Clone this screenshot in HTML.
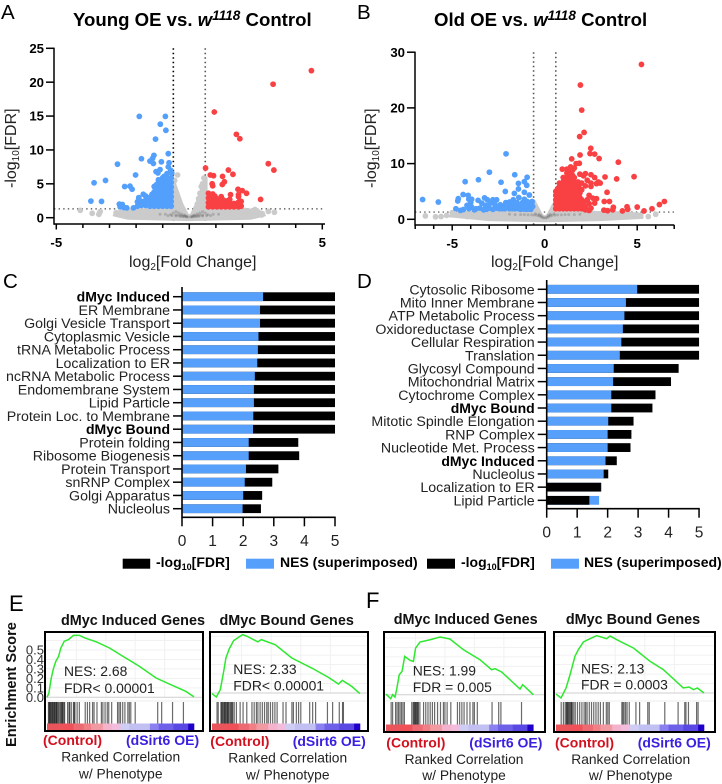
<!DOCTYPE html>
<html><head><meta charset="utf-8"><title>Volcano, GSEA bars and enrichment plots</title>
<style>
html,body{margin:0;padding:0;background:#fff;width:722px;height:784px;overflow:hidden}
svg{display:block;font-family:"Liberation Sans",Arial,sans-serif}
.b{font-weight:bold}
</style></head>
<body>
<svg id="fig" width="722" height="784" viewBox="0 0 722 784" xmlns="http://www.w3.org/2000/svg">
<g font-size="20.5">
<text x="1" y="19">A</text>
<text x="357" y="19">B</text>
<text x="3" y="288">C</text>
<text x="357" y="288">D</text>
<text x="9" y="611" font-size="22">E</text>
<text x="366" y="608" font-size="22">F</text>
</g>
<g class="b" font-size="18.6">
<text x="73" y="26">Young OE vs. <tspan font-style="italic">w</tspan><tspan font-style="italic" font-size="13.6" dy="-6">1118</tspan><tspan dy="6"> Control</tspan></text>
<text x="434" y="26">Old OE vs. <tspan font-style="italic">w</tspan><tspan font-style="italic" font-size="13.6" dy="-6">1118</tspan><tspan dy="6"> Control</tspan></text>
</g>
<g font-size="16" fill="#222">
<text x="129" y="267">log<tspan font-size="10" dy="3">2</tspan><tspan dy="-3">[Fold Change]</tspan></text>
<text x="491" y="267">log<tspan font-size="10" dy="3">2</tspan><tspan dy="-3">[Fold Change]</tspan></text>
<text transform="translate(16,188) rotate(-90)">-log<tspan font-size="10" dy="3">10</tspan><tspan dy="-3">[FDR]</tspan></text>
<text transform="translate(376,188) rotate(-90)">-log<tspan font-size="10" dy="3">10</tspan><tspan dy="-3">[FDR]</tspan></text>
</g>
<g id="gA"></g>
<g id="gB"></g>
<g id="gC"></g>
<g id="gD"></g>
<g class="b" font-size="14">
<rect x="122.7" y="558.7" width="27.5" height="10" fill="#000"/>
<text x="156" y="567">-log<tspan font-size="9" dy="3">10</tspan><tspan dy="-3">[FDR]</tspan></text>
<rect x="246" y="558.7" width="28" height="10" fill="#569ffb"/>
<text x="280" y="567">NES (superimposed)</text>
<rect x="427" y="558.7" width="28" height="10" fill="#000"/>
<text x="461" y="567">-log<tspan font-size="9" dy="3">10</tspan><tspan dy="-3">[FDR]</tspan></text>
<rect x="551" y="558.7" width="28" height="10" fill="#569ffb"/>
<text x="584" y="567">NES (superimposed)</text>
</g>
<text class="b" font-size="14.6" transform="translate(16,747) rotate(-90)" fill="#111">Enrichment Score</text>
<g id="gE"></g>
<script>
// Volcano A
const aEnvelope = [[-2.85,.3],[-2.8,.85],[-2.4,1.25],[-.68,1.35],[-.68,6],[-.52,5],[-.25,2],[-.06,.55],[0,.4],[.06,.55],[.25,2],[.5,5],[.66,6],[.66,1.35],[2.4,1.25],[2.8,.85],[2.85,.3],[2.3,-.2],[0,-.4],[-2.3,-.2]];
const aGrey = [[-4.1,1.08],[-3.65,.65],[-3.35,.9],[-3.4,.5],[2.97,.93],[3.2,.8],[2.47,1.2],[2.6,.65],[2.72,.4],[2.55,1],
[-2.75,.75],[-2.6,.5],[-2.4,.95],[-2,1.05],[-1.6,1.05],[-1.2,1.05],[2.1,1.05],[1.7,1.05],[-2.2,.2],[-1.5,.15],[1.5,.15],[2.2,.2],
[-.44,6.3],[-.55,5.5],[-.6,5],[-.62,4.4],[-.55,4.3],[-.62,3.6],[-.48,3.6],[-.62,2.9],[-.42,2.9],[-.62,2.2],[-.36,2.2],[-.62,1.6],[-.3,1.6],[-.24,1.1],
[.55,5.85],[.5,5],[.45,4.6],[.4,3.6],[.55,3.5],[.5,2.8],[.35,2.8],[.55,2.2],[.3,2],[.55,1.6],[.25,1.4],[.24,1.1],[0,0]];
const aCore = [[-.05,.1],[.05,.1],[-.1,.2],[.1,.2],[-.15,.3],[.15,.3],[-.2,.4],[.2,.4],[-.3,.55],[.3,.55],[-.4,.7],[.4,.7],[-.12,.1],[.12,.1],[-.2,.2],[.2,.2],[-.3,.3],[.3,.3],[-.4,.35],[.4,.35],[-.5,.4],[.5,.4],[-.7,.45],[.7,.45],[-.9,.5],[.9,.5],[-.6,.7],[.6,.7],[-.5,.9],[.5,.9],[-1.1,.5],[1.1,.5],[-.25,.15],[.25,.15],[-.35,.2],[.35,.2],[-.5,.25],[.5,.25],[-.65,.3],[.65,.3],[-.8,.3],[.8,.3]];
const aBlue = [[-1.88,14.95],[-.9,14.95],[-1.09,13.8],[-.88,12.9],[-1.27,11.6],[-.79,9.45],[-1.8,8.7],[-1.33,9.2],[-1.38,8.75],[-1.48,8.35],[-1.35,8],[-1.05,8.25],[-2.7,7.9],[-2.02,6.3],[-.76,8.1],[-.79,7.5],[-.7,7],[-.66,6.6],[-3.58,5.15],[-3.15,5.5],[-2.43,4.6],[-2.23,4.65],[-2.15,4.2],[-3.7,2.45],[-3.3,2.4],[-2.63,2],[-2.6,1.6],[-2.35,1.45],[-2.1,1.45],[-1.73,3.45],[-1.9,2.95],[-1.95,2.35],[-1.85,1.9],
[-1.1,7.1],[-1.25,6.8],[-1.18,6.6],[-.95,6.1],[-2.52,1.95],[-2.45,1.5],
[-.68,1.7],[-.68,2.4],[-.68,3.1],[-.68,3.8],[-.68,4.5],[-.68,5.2],[-.68,5.9],
[-.84,1.7],[-.84,2.4],[-.84,3.1],[-.84,3.8],[-.84,4.5],[-.84,5.2],[-.84,5.9],[-.84,6.5],
[-1,1.7],[-1,2.4],[-1,3.1],[-1,3.8],[-1,4.5],[-1,5.2],[-1,5.9],
[-1.16,1.7],[-1.16,2.4],[-1.16,3.1],[-1.16,3.8],[-1.16,4.5],[-1.16,5.2],[-1.16,5.6],
[-1.32,1.7],[-1.32,2.4],[-1.32,3.1],[-1.32,3.8],[-1.32,4.6],
[-1.48,1.7],[-1.48,2.3],[-1.48,3],[-1.64,1.8],[-1.64,2.6],[-1.64,3.2],[-1.8,1.8],[-1.8,2.4],[-1.95,1.7],
[-.76,2.05],[-.76,2.75],[-.76,3.45],[-.76,4.15],[-.76,4.85],[-.76,5.55],[-.92,2.05],[-.92,2.75],[-.92,3.45],[-.92,4.15],[-.92,4.85],[-.92,5.55],[-1.08,2.05],[-1.08,2.75],[-1.08,3.45],[-1.08,4.15],[-1.08,4.85],[-1.08,5.55],[-1.24,2.05],[-1.24,2.75],[-1.24,3.45],[-1.24,4.15],[-1.24,4.85],[-1.4,2.05],[-1.4,2.75],[-1.4,3.45],[-1.56,2.05],[-1.56,2.85],[-1.72,2.1]];
const aRed = [[4.59,21.7],[3.15,19.7],[.94,15.6],[1.77,12.3],[1.9,11.65],[2.97,7.97],[3.18,7.03],[.61,7.33],[.79,6.3],[.91,6.2],[1.25,6.1],[1.47,7.03],[1.64,6.4],[.86,5],[1.32,5.3],[1.83,4.2],[1.99,4],[2.15,3.6],[2.68,2.7],[1.55,3.4],[1.24,4.9],[.88,4.7],
[.72,1.6],[.72,2.2],[.72,2.9],[.72,3.6],[.88,1.6],[.88,2.2],[.88,2.9],[.88,3.5],[1.04,1.6],[1.04,2.2],[1.04,2.8],[1.2,1.6],[1.2,2.2],[1.2,3.1],[1.36,1.6],[1.36,2.3],[1.52,1.6],[1.52,2.2],[1.52,2.7],[1.68,1.6],[1.68,2.1],[1.85,1.6],[1.85,2.3],[1.85,3.1],[1.85,3.4],[1.95,1.7],[1.95,2.4],
[.8,1.9],[.8,2.55],[.8,3.2],[.96,1.9],[.96,2.55],[.96,3.2],[1.12,1.9],[1.12,2.5],[1.28,1.9],[1.28,2.6],[1.44,1.9],[1.44,2.5],[1.6,1.9],[1.76,1.9]];
const aXTicks = [-5,-4,-3,-2,-1,0,1,2,3,4,5];
const aXLabels = [-5,0,5];
const aYLabels = [0,5,10,15,20,25];
// Volcano B
const bEnvelope = [[-5.2,.5],[-4.8,1.2],[-4.2,1.35],[-.68,1.4],[-.64,3.2],[-.45,2.8],[-.15,.9],[0,.5],[.15,.9],[.45,2.8],[.64,3.2],[.68,1.4],[4.2,1.3],[5.3,1],[5.3,.2],[3,-.2],[0,-.4],[-3,-.2]];
const bGrey = [[-6.45,.6],[-5.9,.45],[-5.6,.5],[-5.3,.7],[6,.9],[5.6,.5],[-5,1.2],[0,.1],[-4.6,.8],[-4.2,.5],[4.7,.6],[5,.8],[-.6,3],[.6,3]];
const bCore = [[-.05,.25],[.05,.25],[-.12,.35],[.12,.35],[-.2,.45],[.2,.45],[-.3,.6],[.3,.6],[-.4,.7],[.4,.7],[-.55,.75],[.55,.75],[-.7,.8],[.7,.8],[-.9,.8],[.9,.8],[-1.1,.85],[1.1,.85],[-1.3,.85],[1.3,.85],[-.3,.9],[.3,.9],[-.2,.7],[.2,.7],[-1.6,.85],[1.6,.85],[-1.9,.9],[1.9,.9],[-.5,1],[.5,1]];
const bBlue = [[-2.09,11.75],[-2.99,8.45],[-1.62,8],[-3.58,7.1],[-4.3,6.75],[-2.36,6.65],[-.95,7.55],[-1.1,6.75],[-.97,6.1],[-1.42,6.45],[-1.42,5.45],[-6.6,3.55],[-5.75,3.1],[-2.13,5],[-1.64,4.65],[-1.1,4.85],[-.83,4.35],[-4.41,4.45],[-4.14,4.3],[-4.67,3.7],[-4.7,3.3],[-4.8,1.9],
[-4.4,1.75],[-4.55,1.6],[-4.1,3.6],[-3.95,3.6],[-4,3],[-4.2,2.5],[-3.95,2.2],[-4.1,1.9],[-3.8,1.7],[-3.6,3.4],[-3.25,3.85],[-3.1,3.5],[-3.4,2.9],[-3.5,2],[-3.2,2.5],[-2.95,2.9],[-3,2],[-2.8,3.5],[-2.6,3.5],[-2.7,2.7],[-2.6,2],[-2.4,2.6],[-2.3,1.9],[-2.1,3],[-2,2.5],[-1.9,1.9],[-1.9,3.1],[-1.7,3.5],[-1.65,2.6],[-1.6,1.9],[-1.5,3],[-1.4,3.9],[-1.35,2.4],[-1.3,1.8],[-1.2,3],[-1.1,3.6],[-1.05,2.4],[-1,1.8],[-.95,3.2],[-.8,2.6],[-.75,1.8],[-.68,3.2],[-.65,2.3],[-2.8,1.8],[-3.3,1.7],
[-2.15,1.9],[-2.2,2.4],[-1.8,2.4],[-1.5,2.2],[-1.2,2.2],[-.9,2.3],[-.7,2.8],[-1.4,1.9],[-1.15,1.85],[-.85,1.85],[-1.75,1.9],[-2.45,1.9],[-1.25,2.6],[-1.55,2.7],[-1.85,2.8],[-.85,3],[-3.7,1.9],[-3.15,1.8]];
const bRed = [[5.23,27.8],[1.93,24.1],[2,19.6],[2.13,15.6],[1.89,14.85],[2.49,12.75],[2.45,11.8],[2.7,11.7],[2.94,10.9],[1.91,11.55],[1.46,10.85],[1.87,10.05],[1.7,10],[3.98,10.25],[3.26,7.6],[4.83,7.65],[3.89,7.25],[3.37,4.85],[3.22,3.2],[3.5,3.2],[3.71,2.15],[6.47,3.2],[6.2,2.65],[5.8,1.9],[5.37,1.5],[5,2.2],[4.45,2.25],[4.2,1.5],[4.49,1.8],[3.4,1.55],[3.2,1.65],[3.68,1.7],
[.6,1.9],[.6,2.7],[.6,3.5],[.6,4.3],[.6,5],[.8,1.9],[.8,2.7],[.8,3.5],[.8,4.3],[.8,5.1],[.8,5.9],[.8,6.5],[1,1.9],[1,2.7],[1,3.5],[1,4.3],[1,5.1],[1,5.9],[1,6.7],[1,7.5],[.95,9],[1.2,1.9],[1.2,2.7],[1.2,3.5],[1.2,4.3],[1.2,5.1],[1.2,5.9],[1.2,6.7],[1.2,7.5],[1.2,8.3],[1.2,9],[1.4,1.9],[1.4,2.7],[1.4,3.5],[1.4,4.3],[1.4,5.1],[1.4,5.9],[1.4,6.7],[1.4,7.5],[1.4,8.3],[1.4,9.4],[1.6,1.9],[1.6,2.7],[1.6,3.5],[1.6,4.3],[1.6,5.1],[1.6,5.9],[1.6,6.7],[1.6,7.5],[1.6,9.2],[1.8,1.9],[1.8,2.7],[1.8,3.5],[1.8,4.3],[1.8,5.1],[1.8,5.9],[1.8,6.7],[1.9,8.1],[2,1.9],[2,2.7],[2,3.5],[2,5.3],[2,6.5],[2.2,8.2],[2.5,8],[2.7,7.5],[3,6.5],[2.8,6.4],[2.5,6.5],[2.3,7],[2.2,6],[2.5,5.9],[2.3,3.5],[2.6,3.8],[2.8,3.7],[2.4,4.3],[2.1,3],[2.4,2.8],[2.7,2.9],[2.2,2.3],[2.5,2],[2.2,1.7],[2.4,1.6],[2.1,7.8],[2.9,6.7],
[.7,2.3],[.7,3.1],[.7,3.9],[.7,4.7],[.7,5.5],[.9,2.3],[.9,3.1],[.9,3.9],[.9,4.7],[.9,5.5],[.9,6.3],[1.1,2.3],[1.1,3.1],[1.1,3.9],[1.1,4.7],[1.1,5.5],[1.1,6.3],[1.1,7.1],[1.3,2.3],[1.3,3.1],[1.3,3.9],[1.3,4.7],[1.3,5.5],[1.3,6.3],[1.3,7.1],[1.3,7.9],[1.5,2.3],[1.5,3.1],[1.5,3.9],[1.5,4.7],[1.5,5.5],[1.5,6.3],[1.5,7.1],[1.5,7.9],[1.5,8.8],[1.7,2.3],[1.7,3.1],[1.7,3.9],[1.7,4.7],[1.7,5.5],[1.7,6.3],[1.9,2.3],[1.9,3.1],[1.9,3.9],[1.9,4.7],[1.9,5.5]];
const bXTicks = [-7,-6,-5,-4,-3,-2,-1,0,1,2,3,4,5,6,7];
const bXLabels = [-5,0,5];
const bYLabels = [0,10,20,30];
// Bars C
const cCategories = ["dMyc Induced","ER Membrane","Golgi Vesicle Transport","Cytoplasmic Vesicle","tRNA Metabolic Process","Localization to ER","ncRNA Metabolic Process","Endomembrane System","Lipid Particle","Protein Loc. to Membrane","dMyc Bound","Protein folding","Ribosome Biogenesis","Protein Transport","snRNP Complex","Golgi Apparatus","Nucleolus"];
const cNES = [2.65,2.55,2.55,2.5,2.48,2.46,2.38,2.35,2.35,2.33,2.32,2.18,2.18,2.09,2.05,2.0,1.98];
const cFDR = [5,5,5,5,5,5,5,5,5,5,5,3.8,3.83,3.15,2.95,2.62,2.58];
const cBold = ["dMyc Induced","dMyc Bound"];
// Bars D
const dCategories = ["Cytosolic Ribosome","Mito Inner Membrane","ATP Metabolic Process","Oxidoreductase Complex","Cellular Respiration","Translation","Glycosyl Compound","Mitochondrial Matrix","Cytochrome Complex","dMyc Bound","Mitotic Spindle Elongation","RNP Complex","Nucleotide Met. Process","dMyc Induced","Nucleolus","Localization to ER","Lipid Particle"];
const dNES = [2.97,2.6,2.55,2.5,2.45,2.4,2.2,2.18,2.12,2.12,2.02,2.0,2.0,1.93,1.87,1.8,1.72];
const dFDR = [5,5,5,5,5,5,4.33,4.08,3.57,3.47,2.85,2.78,2.75,2.3,2.02,1.78,1.4];
const barTicks = [0,1,2,3,4,5];
// GSEA curves: rank percent and enrichment score
const e1Rank = [0,1.3,2.9,4.5,6,7.9,9.4,11.7,14.6,18,22,25.8,33.7,42.7,51.7,62.9,74.2,85.4,94.4,100];
const e1ES = [0,.045,.204,.31,.38,.433,.52,.592,.61,.655,.655,.627,.585,.52,.433,.327,.204,.126,.063,.005];
const e1Hits = [1,1.4,1.8,2.2,2.6,3.2,3.6,4,4.6,5,5.4,6,6.4,6.8,7.4,8,8.8,9.4,10,10.4,10.8,11.5,12,14,15,15.4,16.5,18,18.5,19,20.5,22,26,27.5,29,31,32,34,37,38,39.5,41,42,44,48,49,50,51.5,53,55,56,57,60,75.3,78,85.4,92.8];
const e2Rank = [0,2.9,5.6,7.9,9.4,11.7,14.6,18,20.7,23.6,31,33.3,42.7,53.9,67.4,78.7,85.4,88.1,94.4,100];
const e2ES = [-.007,-.042,.035,.229,.37,.468,.553,.589,.617,.6,.54,.564,.511,.37,.264,.165,.095,.134,.07,-.007];
const e2Hits = [3.4,4.2,6,6.5,7,7.6,8.2,8.6,9,9.6,10.2,10.6,11,11.6,12.4,13,13.5,14,15,16.5,19,21,23.5,27,28.5,30,31,32.5,34,35.5,37,38,39.5,41,42.5,44,48,50,54,55,57,58.5,60,66,68,70,78,81.5,86,88.2,88.8];
const f1Rank = [0,3.2,4.5,6.1,7.2,9,10.9,12.7,16.3,18.6,20.1,23.1,29.9,36.7,43.4,52.5,63.8,71.7,74,78.5,91,92.8,100];
const f1ES = [.007,-.042,0,-.025,.053,.211,.247,.405,.363,.352,.493,.557,.581,.61,.589,.476,.37,.264,.275,.24,.06,.106,0];
const f1Hits = [3.5,4.5,6.5,7.5,8.5,9.5,10.5,11.5,12.5,17.5,18.5,19,19.5,20,20.5,21,21.5,22,23,25.5,27,28.5,30,31.5,33,35,37,39,40,41.5,44,48.5,50,51.5,53,55,57,59,60,62,72,76.5,78,92];
const f2Rank = [0,3.4,6.8,9.5,12.8,15.1,18.5,23,27.5,34.2,36.5,43.2,52.3,63.5,72.5,86,90,92.8,95.5,100];
const f2ES = [-.011,-.053,.053,.194,.388,.458,.539,.574,.606,.574,.602,.546,.476,.335,.247,.053,.063,.035,.053,0];
const f2Hits = [3.5,5,6.2,7,7.4,7.8,8.4,9,9.6,10.2,10.6,11,12,13,14.5,16,17.5,19,20,21,22.5,24,25.5,27,28.5,30,32,34,35,36,44.5,45.2,46,47,48,49.5,54,56.5,62,63,73.5,82.5,87,87.8,89.5,95,96];
const colorEnds = [10,18,25,30,38,44,50,56,70,76,86,96,100];
const colorFills = ["#ea555c","#f05058","#ee6a72","#f07f86","#f29aa2","#f5b2cd","#f2bcdc","#cfcdf4","#c2bff2","#8a80f0","#6f60ea","#5a48e4","#2000c8"];
const gseaTicks = ["0.5","0.4","0.3","0.2","0.1","0.0"];
const gseaTickES = [.5,.4,.3,.2,.1,0];

const NS = "http://www.w3.org/2000/svg";
function mk(tag, attrs, parent, txt){
  const el = document.createElementNS(NS, tag);
  for (const k in attrs) el.setAttribute(k, attrs[k]);
  if (txt !== undefined) el.textContent = txt;
  parent.appendChild(el);
  return el;
}
function volcano(id, o){
  const g = document.getElementById(id);
  const X = v => o.x0 + v * o.xs, Y = v => o.y0 - v * o.ys;
  for (const t of [-0.6, 0.6]){
    const vl = mk("line",{x1:X(t),x2:X(t),y1:o.top,y2:o.axisY,stroke:t<0?o.thL:o.thR,"stroke-width":1.6,"stroke-dasharray":"1.5 3"},g);
    
    
  }
  const hl = mk("line",{x1:o.left,x2:o.right,y1:Y(1.3),y2:Y(1.3),stroke:"#444","stroke-width":1.2,"stroke-dasharray":"1.4 3.2"},g);
  
  
  const env = mk("polygon",{points:o.envelope.map(p=>X(p[0])+","+Y(p[1])).join(" "),fill:"#cbcbcb",stroke:"#cbcbcb","stroke-width":1.5,"stroke-linejoin":"round"},g);
  
  
  for (const p of o.grey){
    const c = mk("circle",{cx:X(p[0]),cy:Y(p[1]),r:2.9,fill:"#cbcbcb"},g);
    
    
  }
  for (const p of o.core){
    const c = mk("circle",{cx:X(p[0]),cy:Y(p[1]),r:1.5,fill:"#333","fill-opacity":.2},g);
    
    
  }
  for (const p of o.blue){
    const c = mk("circle",{cx:X(p[0]),cy:Y(p[1]),r:2.9,fill:"#529ffc"},g);
    
    
  }
  for (const p of o.red){
    const c = mk("circle",{cx:X(p[0]),cy:Y(p[1]),r:2.9,fill:"#f94144"},g);
    
    
  }
  const ax = mk("g",{stroke:"#000","stroke-width":1.5,fill:"none"},g);
  
  
  mk("line",{x1:o.left,x2:o.left,y1:o.top-.7,y2:o.axisY+.7},ax);
  mk("line",{x1:o.left,x2:o.right,y1:o.axisY,y2:o.axisY},ax);
  for (const t of o.xTicks){
    mk("line",{x1:X(t),x2:X(t),y1:o.axisY,y2:o.axisY+(o.xLabels.includes(t)?5.5:4)},ax);
  }
  for (const t of o.yLabels){
    mk("line",{x1:o.left-8,x2:o.left,y1:Y(t),y2:Y(t)},ax);
    const tl = mk("text",{x:o.left-10,y:Y(t)+4.6,"text-anchor":"end","font-size":13.2,"font-weight":"bold"},g,String(t));
    
    
  }
  for (const t of o.xLabels){
    const tl = mk("text",{x:X(t),y:o.axisY+23,"text-anchor":"middle","font-size":13.2,"font-weight":"bold"},g,String(t));
    
    
  }
}
volcano("gA",{x0:189.3,xs:26.6,y0:217.7,ys:6.776,top:48.3,axisY:224,left:54,right:325,thL:"#000",thR:"#555",envelope:aEnvelope,grey:aGrey,core:aCore,blue:aBlue,red:aRed,xTicks:aXTicks,xLabels:aXLabels,yLabels:aYLabels});
volcano("gB",{x0:544.7,xs:18.5,y0:219.3,ys:5.57,top:52.3,axisY:225,left:415,right:674.3,thL:"#555",thR:"#555",envelope:bEnvelope,grey:bGrey,core:bCore,blue:bBlue,red:bRed,xTicks:bXTicks,xLabels:bXLabels,yLabels:bYLabels});

function bars(id, o){
  const g = document.getElementById(id);
  const X = v => o.x0 + v * o.xs, Y = i => o.y0 + i * o.step;
  o.cats.forEach((name,i)=>{
    const h = 8.8, y = Y(i) - h/2;
    const draw = [[o.fdr[i],"#000","bar-fdr"],[o.nes[i],"#569ffb","bar-nes"]].sort((a,b)=>b[0]-a[0]);
    for (const d of draw){
      const r = mk("rect",{x:X(0),y:y,width:X(d[0])-X(0),height:h,fill:d[1]},g);
      
      
    }
    const tk = mk("line",{x1:o.x0-9,x2:o.x0,y1:Y(i),y2:Y(i),stroke:"#000","stroke-width":1.5},g);
    
    
    const isB = cBold.includes(name);
    const t = mk("text",{x:o.x0-12,y:Y(i)+5,"text-anchor":"end","font-size":isB?14:14.2,"font-weight":isB?"bold":"normal",fill:isB?"#000":"#222"},g,name);
    
    
  });
  mk("line",{x1:o.x0,x2:o.x0,y1:o.top,y2:o.axisY+.8,stroke:"#000","stroke-width":1.6},g);
  mk("line",{x1:o.x0,x2:X(5)+.7,y1:o.axisY,y2:o.axisY,stroke:"#000","stroke-width":1.6},g);
  for (const t of barTicks){
    mk("line",{x1:X(t),x2:X(t),y1:o.axisY,y2:o.axisY+9,stroke:"#000","stroke-width":1.5},g);
    const l = mk("text",{x:X(t),y:o.axisY+28.8,"text-anchor":"middle","font-size":15.5,fill:"#222"},g,String(t));
    
    
  }
}
bars("gC",{x0:182,xs:30.6,y0:296.7,step:13.25,top:287,axisY:517.3,cats:cCategories,nes:cNES,fdr:cFDR});
bars("gD",{x0:546.7,xs:30.47,y0:289.3,step:13.19,top:280,axisY:508.7,cats:dCategories,nes:dNES,fdr:dFDR});

const gseaPanels = [
 {l:45,r:203,t:632,b:731,bx0:47,bx1:194,y0:697.3,rank:e1Rank,es:e1ES,hits:e1Hits,title:"dMyc Induced Genes",tx:133,ty:625,nes:"NES: 2.68",fdr:"FDR< 0.00001",sx:64,ny:676,fy:693,cx:43,bxs:126,cy:745,rx:120.7,ry:761.7,ry2:778.7},
 {l:210,r:368,t:632,b:731,bx0:212,bx1:360,y0:693,rank:e2Rank,es:e2ES,hits:e2Hits,title:"dMyc Bound Genes",tx:286.7,ty:625,nes:"NES: 2.33",fdr:"FDR< 0.00001",sx:233.3,ny:674,fy:690.7,cx:210.3,bxs:292.7,cy:746,rx:287.7,ry:762.7,ry2:779.7},
 {l:384,r:545,t:632,b:732,bx0:386,bx1:533.3,y0:694.7,rank:f1Rank,es:f1ES,hits:f1Hits,title:"dMyc Induced Genes",tx:465.7,ty:624,nes:"NES: 1.99",fdr:"FDR = 0.005",sx:412.7,ny:675.7,fy:692,cx:386.3,bxs:469.3,cy:747.7,rx:464,ry:764,ry2:780},
 {l:554,r:715,t:632,b:732,bx0:556,bx1:704,y0:693,rank:f2Rank,es:f2ES,hits:f2Hits,title:"dMyc Bound Genes",tx:633,ty:624,nes:"NES: 2.13",fdr:"FDR = 0.0003",sx:581,ny:673.7,fy:689.7,cx:555,bxs:637.7,cy:747.7,rx:630.7,ry:764,ry2:780}
];
const gE = document.getElementById("gE");
const esScale = 94.6;
gseaPanels.forEach((p,pi)=>{
  const g = mk("g",{},gE);
  
  
  const X = r => p.bx0 + r/100*(p.bx1-p.bx0), Y = v => p.y0 - v*esScale;
  const hits0 = 702, hits1 = p.b - 7.5;
  [.1,.2,.3,.4,.5,.6].forEach(v=>mk("line",{x1:p.l,x2:p.r,y1:Y(v),y2:Y(v),stroke:"#f1f1f1","stroke-width":1},g));
  [20,40,60,80].forEach(v=>mk("line",{x1:X(v),x2:X(v),y1:p.t,y2:p.y0,stroke:"#f1f1f1","stroke-width":1},g));
  mk("line",{x1:p.l,x2:p.r,y1:p.y0,y2:p.y0,stroke:"#cfcfcf","stroke-width":1},g);
  mk("line",{x1:p.l,x2:p.r,y1:hits0-1,y2:hits0-1,stroke:"#ececec","stroke-width":1},g);
  p.hits.forEach(r=>{
    const h = mk("line",{x1:X(r),x2:X(r),y1:hits0,y2:hits1,stroke:"#000","stroke-opacity":.58,"stroke-width":1.2},g);
    
    
  });
  let prev = 0;
  colorEnds.forEach((e,i)=>{
    const s = mk("rect",{x:X(prev),y:hits1,width:X(e)-X(prev)+.3,height:6.5,fill:colorFills[i]},g);
    
    
    prev = e;
  });
  const c = mk("polyline",{points:p.rank.map((r,i)=>X(r)+","+Y(p.es[i])).join(" "),fill:"none",stroke:"#2fe82f","stroke-width":1.5},g);
  
  
  const fr = mk("rect",{x:p.l,y:p.t,width:p.r-p.l,height:p.b-p.t,fill:"none",stroke:"#000","stroke-width":2},g);
  
  
  const tt = mk("text",{x:p.tx,y:p.ty,"text-anchor":"middle","font-size":14.4,"font-weight":"bold",fill:"#111"},g,p.title);
  
  
  const n1 = mk("text",{x:p.sx,y:p.ny,"font-size":13.9,fill:"#222"},g,p.nes);
  
  
  const n2 = mk("text",{x:p.sx,y:p.fy,"font-size":13.9,fill:"#222"},g,p.fdr);
  
  
  const cl = mk("text",{x:p.cx,y:p.cy,"font-size":14,"font-weight":"bold",fill:"#d2101e"},g,"(Control)");
  
  
  const ol = mk("text",{x:p.bxs,y:p.cy,"font-size":14,"font-weight":"bold",fill:"#3a20e0"},g,"(dSirt6 OE)");
  
  
  const r1 = mk("text",{x:p.rx,y:p.ry,"text-anchor":"middle","font-size":13.8,fill:"#222"},g,"Ranked Correlation");
  
  
  const r2 = mk("text",{x:p.rx,y:p.ry2,"text-anchor":"middle","font-size":13.8,fill:"#222"},g,"w/ Phenotype");
  
  
  if (pi === 0){
    gseaTicks.forEach((t,i)=>{
      const l = mk("text",{x:44,y:Y(gseaTickES[i])+4.5,"text-anchor":"end","font-size":13,fill:"#333"},g,t);
      
      
    });
  }
});
</script>
</svg>
</body></html>
